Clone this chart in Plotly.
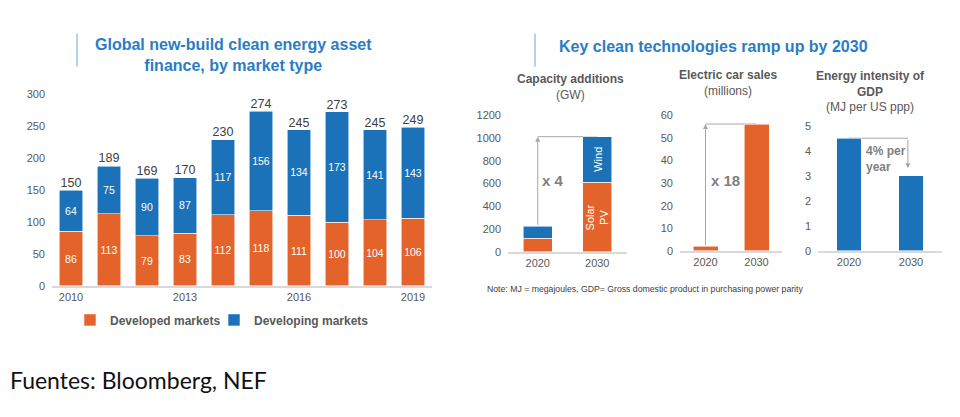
import plotly.graph_objects as go

# ---------------- data ----------------
years = [2010, 2011, 2012, 2013, 2014, 2015, 2016, 2017, 2018, 2019]
developed = [86, 113, 79, 83, 112, 118, 111, 100, 104, 106]
developing = [64, 75, 90, 87, 117, 156, 134, 173, 141, 143]
totals = [150, 189, 169, 170, 230, 274, 245, 273, 245, 249]
year_ticks = [2010, 2013, 2016, 2019]

tech_years = ["2020", "2030"]
solar_pv_gw = [120, 610]
wind_gw = [105, 400]
ev_sales_m = [2, 56]
energy_intensity = [4.5, 3.0]

# ---------------- style ----------------
W, H = 960, 417
OFF = 8  # page body margin
ORANGE = "#E4632A"
BLUE = "#1B72B8"
TITLE_BLUE = "#2A7DC4"
GRAY = "#595959"
DARK = "#404040"
ARROW = "#A6A6A6"
FONT = "Liberation Sans, Arial, sans-serif"
EDGE = dict(color="rgba(255,255,255,0.7)", width=0.8)


def px(x):
    return (x - OFF) / W


def py(y):
    return 1 - (y - OFF) / H


fig = go.Figure()

# ---- left chart ----
bar_text = dict(texttemplate="%{y}", textposition="inside", insidetextanchor="middle", textangle=0,
                constraintext="none", textfont=dict(size=10.5, color="white"))
fig.add_trace(go.Bar(x=years, y=developed, name="Developed markets", marker=dict(color=ORANGE, line=EDGE),
                     width=0.61, xaxis="x", yaxis="y", legend="legend", **bar_text))
fig.add_trace(go.Bar(x=years, y=developing, name="Developing markets", marker=dict(color=BLUE, line=EDGE),
                     width=0.61, xaxis="x", yaxis="y", legend="legend2", **bar_text))
fig.add_trace(go.Scatter(
    x=years, y=totals, mode="text", text=[str(t) for t in totals], textposition="top center",
    textfont=dict(size=12.5, color=DARK), showlegend=False, cliponaxis=False, hoverinfo="skip",
    xaxis="x", yaxis="y"))

# ---- capacity additions ----
cap_total = [s + w for s, w in zip(solar_pv_gw, wind_gw)]
fig.add_trace(go.Bar(x=tech_years, y=solar_pv_gw, marker=dict(color=ORANGE, line=EDGE),
                     width=0.49, showlegend=False, xaxis="x2", yaxis="y2"))
fig.add_trace(go.Bar(x=tech_years, y=wind_gw, marker=dict(color=BLUE, line=EDGE),
                     width=0.49, showlegend=False, xaxis="x2", yaxis="y2"))

# ---- EV sales ----
fig.add_trace(go.Bar(x=tech_years, y=ev_sales_m, marker=dict(color=ORANGE, line=EDGE),
                     width=0.49, showlegend=False, xaxis="x3", yaxis="y3"))

# ---- energy intensity ----
fig.add_trace(go.Bar(x=tech_years, y=energy_intensity, marker=dict(color=BLUE, line=EDGE),
                     width=0.4, showlegend=False, xaxis="x4", yaxis="y4"))

tickfont = dict(size=11, color=GRAY)
common_y = dict(showgrid=False, zeroline=False, showline=False, ticks="", tickfont=tickfont, ticklabelstandoff=6)
common_x = dict(showgrid=False, zeroline=False, showline=True, linecolor="#D9D9D9", linewidth=1.5, ticks="",
                tickfont=tickfont)
legend_style = dict(orientation="h", xanchor="left", yanchor="middle", bgcolor="rgba(0,0,0,0)",
                    font=dict(size=12, color=GRAY, weight="bold"))

fig.update_layout(
    width=W, height=H, margin=dict(l=0, r=0, t=0, b=0),
    paper_bgcolor="white", plot_bgcolor="white",
    font=dict(family=FONT, color=GRAY),
    barmode="stack",
    xaxis=dict(domain=[px(52), px(432)], range=[2009.5, 2019.5], tickmode="array", tickvals=year_ticks,
               anchor="y", **common_x),
    yaxis=dict(domain=[py(288), py(91)], range=[0, 300], dtick=50, anchor="x", **common_y),
    xaxis2=dict(domain=[px(508), px(627)], type="category", range=[-0.5, 1.5], anchor="y2", **common_x),
    yaxis2=dict(domain=[py(253), py(112)], range=[0, 1200], dtick=200, anchor="x2", **common_y),
    xaxis3=dict(domain=[px(680), px(782)], type="category", range=[-0.5, 1.5], anchor="y3", **common_x),
    yaxis3=dict(domain=[py(252), py(112)], range=[0, 60], dtick=10, anchor="x3", **common_y),
    xaxis4=dict(domain=[px(818), px(942)], type="category", range=[-0.5, 1.5], anchor="y4", **common_x),
    yaxis4=dict(domain=[py(252), py(123)], range=[0, 5], dtick=1, anchor="x4", **common_y),
    legend=dict(x=px(70), y=py(323), **legend_style),
    legend2=dict(x=px(214), y=py(323), **legend_style),
)

ann = []
# main titles
ann.append(dict(text="<b>Global new-build clean energy asset<br>finance, by market type</b>", x=px(233), y=py(50),
                xref="paper", yref="paper", showarrow=False, font=dict(size=16, color=TITLE_BLUE),
                xanchor="center", yanchor="middle", align="center"))
ann.append(dict(text="<b>Key clean technologies ramp up by 2030</b>", x=px(713), y=py(41),
                xref="paper", yref="paper", showarrow=False, font=dict(size=16, color=TITLE_BLUE),
                xanchor="center", yanchor="middle"))
# subplot titles
ann.append(dict(text="<b>Capacity additions</b><br>(GW)", x=px(570), y=py(83), xref="paper", yref="paper",
                showarrow=False, font=dict(size=12, color=GRAY), xanchor="center", yanchor="middle"))
ann.append(dict(text="<b>Electric car sales</b><br>(millions)", x=px(728), y=py(79), xref="paper", yref="paper",
                showarrow=False, font=dict(size=12, color=GRAY), xanchor="center", yanchor="middle"))
ann.append(dict(text="<b>Energy intensity of<br>GDP</b><br>(MJ per US ppp)", x=px(870), y=py(88), xref="paper",
                yref="paper", showarrow=False, font=dict(size=12, color=GRAY), xanchor="center", yanchor="middle"))
# multiplier labels
ann.append(dict(text="<b>x 4</b>", x=px(553), y=py(179), xref="paper", yref="paper", showarrow=False,
                font=dict(size=15, color="#7F7F7F"), xanchor="center", yanchor="middle"))
ann.append(dict(text="<b>x 18</b>", x=px(725), y=py(179), xref="paper", yref="paper", showarrow=False,
                font=dict(size=15, color="#7F7F7F"), xanchor="center", yanchor="middle"))
ann.append(dict(text="<b>4% per<br>year</b>", x=px(864), y=py(157), xref="paper", yref="paper", showarrow=False,
                font=dict(size=12, color="#7F7F7F"), xanchor="left", yanchor="middle", align="left"))
# rotated segment labels
ann.append(dict(text="Wind", x=1, y=solar_pv_gw[1] + wind_gw[1] / 2, xref="x2", yref="y2", showarrow=False,
                textangle=-90, font=dict(size=11, color="white")))
ann.append(dict(text="Solar<br>PV", x=1, y=solar_pv_gw[1] / 2, xref="x2", yref="y2", showarrow=False,
                textangle=-90, font=dict(size=11, color="white")))
# arrows
ann.append(dict(text="", x=0, y=cap_total[1], ax=0, ay=cap_total[0], xref="x2", yref="y2", axref="x2", ayref="y2",
                showarrow=True, arrowhead=2, arrowsize=1, arrowwidth=1, arrowcolor=ARROW))
ann.append(dict(text="", x=0, y=ev_sales_m[1], ax=0, ay=ev_sales_m[0], xref="x3", yref="y3", axref="x3",
                ayref="y3", showarrow=True, arrowhead=2, arrowsize=1, arrowwidth=1, arrowcolor=ARROW))
ann.append(dict(text="", x=0.95, y=energy_intensity[1] + 0.3, ax=0.95, ay=energy_intensity[0], xref="x4",
                yref="y4", axref="x4", ayref="y4", showarrow=True, arrowhead=2, arrowsize=1, arrowwidth=1,
                arrowcolor=ARROW))
# note and source
ann.append(dict(text="Note: MJ = megajoules, GDP= Gross domestic product in purchasing power parity", x=px(485),
                y=py(291), xref="paper", yref="paper", showarrow=False, font=dict(size=8.7, color=DARK),
                xanchor="left", yanchor="middle"))
ann.append(dict(text="Fuentes: Bloomberg, NEF", x=px(8), y=py(385), xref="paper", yref="paper", showarrow=False,
                font=dict(size=23, color="#111111", family="Lato, Open Sans, sans-serif"), xanchor="left",
                yanchor="middle"))
fig.update_layout(annotations=ann)

shapes = [
    dict(type="line", xref="paper", yref="paper", x0=px(77), x1=px(77), y0=py(28), y1=py(62),
         line=dict(color="#9DC3E6", width=1.5)),
    dict(type="line", xref="paper", yref="paper", x0=px(535), x1=px(535), y0=py(28), y1=py(62),
         line=dict(color="#9DC3E6", width=1.5)),
    dict(type="line", xref="x2", yref="y2", x0=0, x1=1, y0=cap_total[1], y1=cap_total[1],
         line=dict(color=ARROW, width=1), layer="below"),
    dict(type="line", xref="x3", yref="y3", x0=0, x1=1, y0=ev_sales_m[1], y1=ev_sales_m[1],
         line=dict(color=ARROW, width=1), layer="below"),
    dict(type="line", xref="x4", yref="y4", x0=0, x1=0.95, y0=energy_intensity[0], y1=energy_intensity[0],
         line=dict(color=ARROW, width=1), layer="below"),
]
fig.update_layout(shapes=shapes)

fig.write_html("out.html")
